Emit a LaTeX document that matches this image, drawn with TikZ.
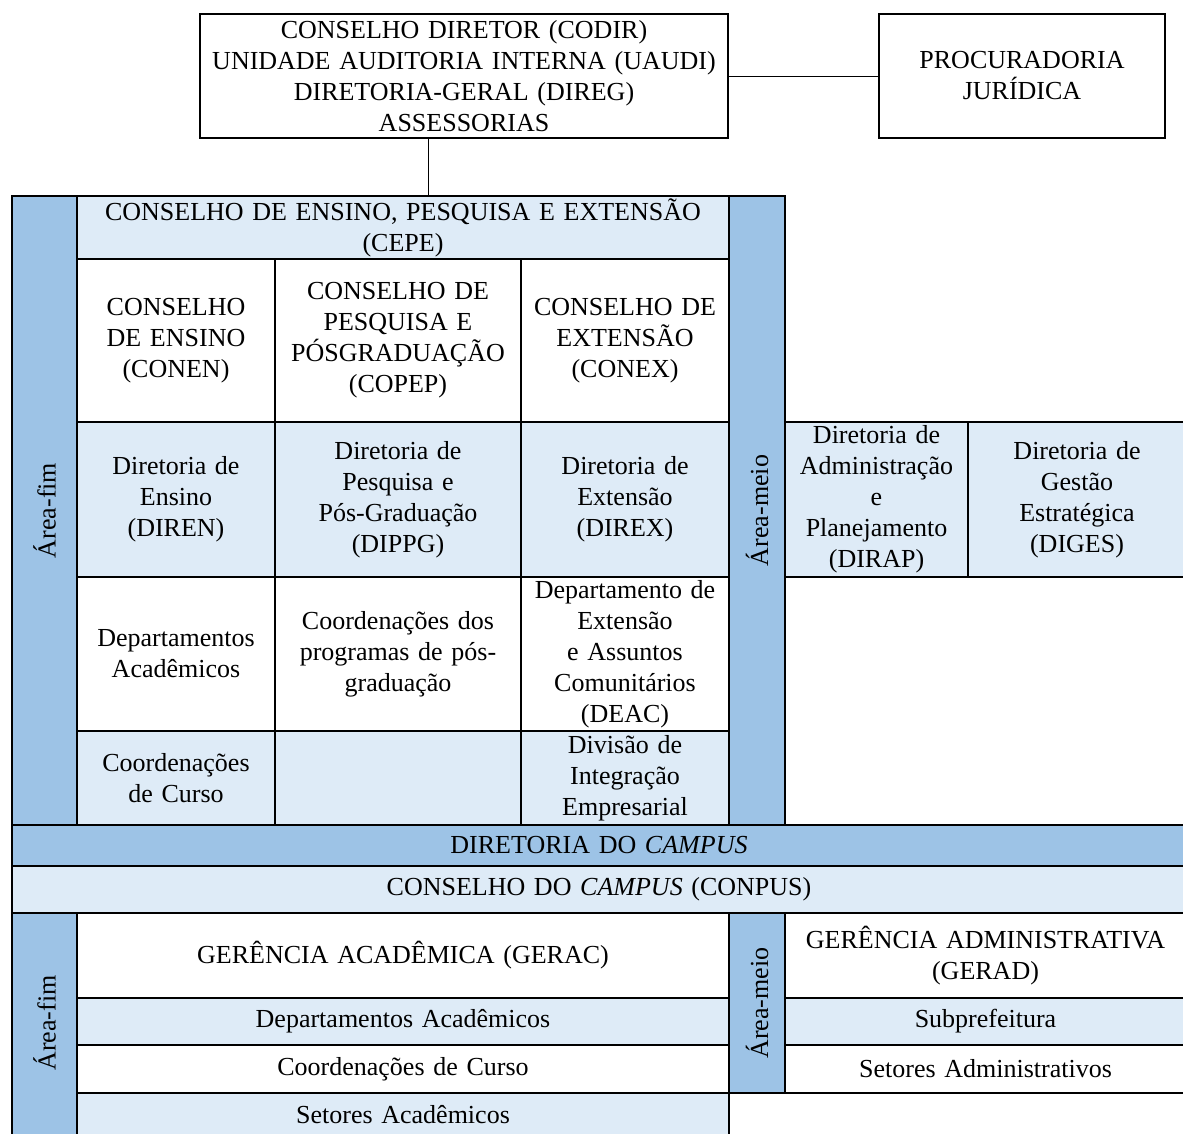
\documentclass[tikz,border=0pt]{standalone}
\usepackage{fontspec}
\setmainfont{Liberation Serif}
\definecolor{darkbar}{HTML}{9DC3E6}
\definecolor{lightrow}{HTML}{DEEBF7}
\tikzset{
  cell/.style={draw=black, line width=1.6pt, inner sep=0pt, align=center,
    font=\fontsize{26}{31}\selectfont},
  vlabel/.style={rotate=90, inner sep=0pt, font=\fontsize{26}{31}\selectfont},
  link/.style={draw=black, line width=1pt}
}
\newcommand\mkcell[7]{%
  \pgfmathsetmacro\cw{#4-#2-6}%
  \pgfmathsetmacro\mw{#4-#2}%
  \pgfmathsetmacro\mh{#5-#3}%
  \node[cell, fill=#6, minimum width=\mw pt, minimum height=\mh pt, text width=\cw pt]
    (#1) at ({(#2+#4)/2},{(#3+#5)/2}) {#7};}
\begin{document}
\begin{tikzpicture}[x=1pt,y=-1pt]
\useasboundingbox (0,0) rectangle (1183,1133);
\begin{scope}
\clip (0,0) rectangle (1183,1133);
% top
\mkcell{top}{200}{14}{728}{138}{white}{CONSELHO DIRETOR (CODIR)\\UNIDADE AUDITORIA INTERNA (UAUDI)\\DIRETORIA-GERAL (DIREG)\\ASSESSORIAS}
\mkcell{proc}{879}{14}{1165}{138}{white}{PROCURADORIA\\JURÍDICA}
\draw[link] (top.east) -- (proc.west);
\coordinate (vtop) at (428,138);
\coordinate (vbot) at (428,196);
\draw[link] (vtop) -- (vbot);
% upper table
\mkcell{afimA}{12}{196}{77}{825}{darkbar}{}
\node[vlabel] (afimAl) at (afimA.center) {Área-fim};
\mkcell{cepe}{77}{196}{729}{259}{lightrow}{CONSELHO DE ENSINO, PESQUISA E EXTENSÃO\\(CEPE)}
\mkcell{conen}{77}{259}{275}{422}{white}{CONSELHO\\DE ENSINO\\(CONEN)}
\mkcell{copep}{275}{259}{521}{422}{white}{CONSELHO DE\\PESQUISA E\\PÓSGRADUAÇÃO\\(COPEP)}
\mkcell{conex}{521}{259}{729}{422}{white}{CONSELHO DE\\EXTENSÃO\\(CONEX)}
\mkcell{ameioA}{729}{196}{785}{825}{darkbar}{}
\node[vlabel] (ameioAl) at (ameioA.center) {Área-meio};
\mkcell{diren}{77}{422}{275}{577}{lightrow}{Diretoria de\\Ensino\\(DIREN)}
\mkcell{dippg}{275}{422}{521}{577}{lightrow}{Diretoria de\\Pesquisa e\\Pós-Graduação\\(DIPPG)}
\mkcell{direx}{521}{422}{729}{577}{lightrow}{Diretoria de\\Extensão\\(DIREX)}
\mkcell{dirap}{785}{422}{968}{577}{lightrow}{Diretoria de\\Administração\\e\\Planejamento\\(DIRAP)}
\mkcell{diges}{968}{422}{1186}{577}{lightrow}{Diretoria de\\Gestão\\Estratégica\\(DIGES)}
\mkcell{dep}{77}{577}{275}{731}{white}{Departamentos\\Acadêmicos}
\mkcell{cpg}{275}{577}{521}{731}{white}{Coordenações dos\\programas de pós-\\graduação}
\mkcell{deac}{521}{577}{729}{731}{white}{Departamento de\\Extensão\\e Assuntos\\Comunitários\\(DEAC)}
\mkcell{ccur}{77}{731}{275}{825}{lightrow}{Coordenações\\de Curso}
\mkcell{vazio}{275}{731}{521}{825}{lightrow}{}
\mkcell{die}{521}{731}{729}{825}{lightrow}{Divisão de\\Integração\\Empresarial}
% campus rows
\mkcell{dircampus}{12}{825}{1186}{866}{darkbar}{DIRETORIA DO \textit{CAMPUS}}
\mkcell{conpus}{12}{866}{1186}{913}{lightrow}{CONSELHO DO \textit{CAMPUS} (CONPUS)}
% lower table
\mkcell{afimB}{12}{913}{77}{1136}{darkbar}{}
\node[vlabel] (afimBl) at (44.5,1023) {Área-fim};
\mkcell{gerac}{77}{913}{729}{998}{white}{GERÊNCIA ACADÊMICA (GERAC)}
\mkcell{depac}{77}{998}{729}{1045}{lightrow}{Departamentos Acadêmicos}
\mkcell{ccurB}{77}{1045}{729}{1093}{white}{Coordenações de Curso}
\mkcell{setac}{77}{1093}{729}{1136}{lightrow}{Setores Acadêmicos}
\mkcell{ameioB}{729}{913}{785}{1093}{darkbar}{}
\node[vlabel] (ameioBl) at (ameioB.center) {Área-meio};
\mkcell{gerad}{785}{913}{1186}{998}{white}{GERÊNCIA ADMINISTRATIVA\\(GERAD)}
\mkcell{subp}{785}{998}{1186}{1045}{lightrow}{Subprefeitura}
\mkcell{setadm}{785}{1045}{1186}{1093}{white}{Setores Administrativos}
\end{scope}
\end{tikzpicture}
\end{document}
